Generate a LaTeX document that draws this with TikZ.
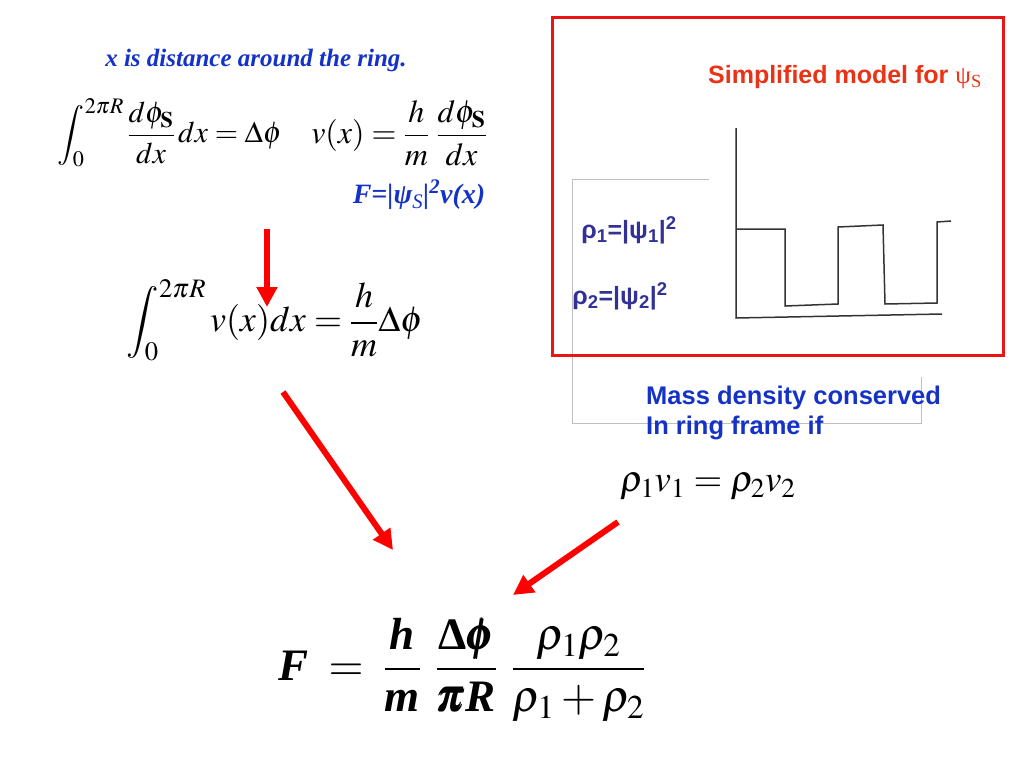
\documentclass[tikz,border=0pt]{standalone}
\usepackage{amsmath}
\usepackage{mathptmx}
\usepackage[no-math]{fontspec}
\setmainfont{Liberation Serif}
\setsansfont{Liberation Sans}
\usetikzlibrary{arrows.meta,positioning}
\definecolor{textblue}{RGB}{20,50,200}
\definecolor{rhoblue}{RGB}{50,50,150}
\definecolor{titlered}{RGB}{235,50,20}
\definecolor{boxred}{RGB}{235,20,20}
\newcommand{\fs}[2][1.2]{\fontsize{#2}{#1\dimexpr #2pt\relax}\selectfont}
\newcommand{\bi}[1]{\text{\bfseries\itshape #1}}

\begin{document}
\begin{tikzpicture}[x=1pt,y=-1pt,
	bigarrow/.style={draw=red, line width=6pt, -{Triangle[length=20pt,width=20pt]}},
	plotline/.style={draw=black!80, line width=1.5pt},
	frameline/.style={draw=black!25, line width=0.8pt},
	eqn/.style={inner sep=0pt},
	note/.style={inner sep=0pt, text=textblue, font=\fs{25}\bfseries\itshape}]
	\useasboundingbox (0,0) rectangle (1024,768);
	
	\node[note] (ring) at (256,60) {x is distance around the ring.};
	\node[eqn, font=\fs{30}] (phase) at (170,133) {$\displaystyle\int_0^{2\pi R}\frac{d\phi_{\mathbf{S}}}{dx}\,dx=\Delta\phi$};
	\node[eqn, font=\fs{32}] (vel) at (399,133) {$\displaystyle v(x)=\frac{h}{m}\;\frac{d\phi_{\mathbf{S}}}{dx}$};
	\node[note, font=\fs{28}\bfseries\itshape] (flux) at (419,195) {F=|ψ\textsubscript{\mdseries S}|\textsuperscript{2}v(x)};
	
	\node[eqn, font=\fs{36}] (circ) at (275,320) {$\displaystyle\int_0^{2\pi R}v(x)dx=\frac{h}{m}\Delta\phi$};
	\node[eqn, font=\fs{45}] (force) at (462,670) {$\displaystyle \bi{F}\;=\;\frac{\bi{h}}{\bi{m}}\;\,\frac{\text{\bfseries Δ}\pmb{\phi}}{\pmb{\pi}\bi{R}}\;\,\frac{\rho_1\rho_2}{\rho_1+\rho_2}$};
	
	% faint frame behind the model box
	\draw[frameline] (709,179) -- (572,179) -- (572,423) -- (921,423) -- (921,377);
	
	\node[inner sep=0pt, text=titlered, font=\fs{25}\sffamily\bfseries] (model) at (845,77) {Simplified model for {\rmfamily\mdseries ψ\textsubscript{S}}};
	\node[inner sep=0pt, text=rhoblue, font=\fs{25}\sffamily\bfseries] (rho1) at (629,230) {ρ\textsubscript{1}=|ψ\textsubscript{1}|\textsuperscript{2}};
	\node[inner sep=0pt, text=rhoblue, font=\fs{25}\sffamily\bfseries] (rho2) at (620,296) {ρ\textsubscript{2}=|ψ\textsubscript{2}|\textsuperscript{2}};
	
	\draw[plotline] (736,128) -- (736,318) -- (942,314);
	\draw[plotline] (736,229) -- (785,229) -- (785,306) -- (838,304) -- (838,227) -- (883,225)
		-- (885,304) -- (937,303) -- (937,222) -- (951,221);
	
	\draw[boxred, line width=3pt] (552,18) rectangle (1003,355);
	
	\node[inner sep=0pt, anchor=west, align=left, text=textblue, font={\fs[1.16]{25.5}\sffamily\bfseries}] (mass) at (646,413) {Mass density conserved\\In ring frame if};
	\node[eqn, font=\fs{37}, anchor=west] (cons) at (620,487) {$\rho_1v_1=\rho_2v_2$};
	
	\coordinate (a1) at (267,229); \coordinate (a2) at (267,307);
	\coordinate (b1) at (283,392); \coordinate (b2) at (393,550);
	\coordinate (c1) at (618,522); \coordinate (c2) at (513,595);
	\draw[bigarrow] (a1) -- (a2);
	\draw[bigarrow] (b1) -- (b2);
	\draw[bigarrow] (c1) -- (c2);
\end{tikzpicture}
\end{document}
